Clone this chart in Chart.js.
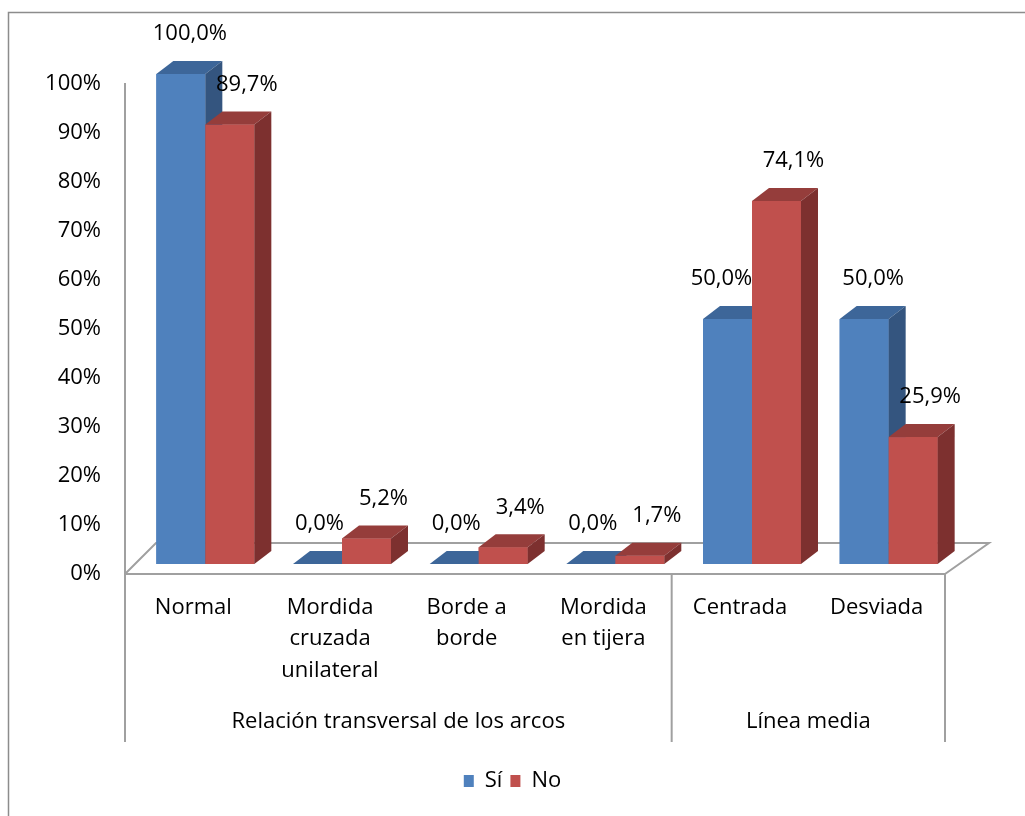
<!DOCTYPE html>
<html>
<head>
<meta charset="utf-8">
<script src="https://cdn.jsdelivr.net/npm/chart.js@4.4.0/dist/chart.umd.min.js"></script>
<style>
  html, body { margin: 0; padding: 0; background: #fff; }
  #wrap { width: 1025px; height: 816px; position: relative; }
</style>
</head>
<body>
<div id="wrap"><canvas id="chart"></canvas></div>
<script>
// Data
const categories = [['Normal'], ['Mordida', 'cruzada', 'unilateral'], ['Borde a', 'borde'], ['Mordida', 'en tijera'], ['Centrada'], ['Desviada']];
const groupNames = ['Relación transversal de los arcos', 'Línea media'];
const groupSizes = [4, 2];
const seriesNames = ['Sí', 'No'];
const siValues = [100, 0, 0, 0, 50, 50];
const noValues = [89.7, 5.2, 3.4, 1.7, 74.1, 25.9];

// Colors
const blueFront = '#4f81bd', blueTop = '#3d6699', blueSide = '#34557f';
const redFront = '#c0504d', redTop = '#953d3b', redSide = '#7d302f';
const lineColor = '#a0a0a0';
const fontFamily = '"Open Sans", Lato, sans-serif';
const fontSize = 22;

// 3D look: bars sit back in the floor, each bar has its own depth
const barShift = { x: 12, y: -10 };
const barDepth = { x: 17, y: -13 };
const faceColors = [[blueTop, blueSide], [redTop, redSide]];

const fmt = v => v.toFixed(1).replace('.', ',') + '%';

const floorPlugin = {
  id: 'floor3d',
  beforeDraw(chart) {
    const ctx = chart.ctx;
    ctx.save();
    ctx.strokeStyle = '#8c8c8c';
    ctx.lineWidth = 1.5;
    ctx.strokeRect(8.5, 12.5, 1040, 840);
    ctx.restore();
  },
  beforeDatasetsDraw(chart) {
    const ctx = chart.ctx, a = chart.chartArea;
    ctx.save();
    ctx.strokeStyle = lineColor;
    ctx.lineWidth = 2;
    ctx.beginPath();
    ctx.moveTo(a.left, a.bottom);
    ctx.lineTo(a.left + 31, a.bottom - 31);
    ctx.lineTo(a.right + 44, a.bottom - 31);
    ctx.lineTo(a.right, a.bottom);
    ctx.stroke();
    ctx.restore();
    ctx.save();
    ctx.translate(barShift.x, barShift.y);
  },
  afterDatasetsDraw(chart) {
    const ctx = chart.ctx;
    const metas = [chart.getDatasetMeta(0), chart.getDatasetMeta(1)];
    const n = chart.data.labels.length;
    for (let i = 0; i < n; i++) {
      metas.forEach((meta, d) => {
        const bar = meta.data[i];
        const l = bar.x - bar.width / 2, r = bar.x + bar.width / 2;
        const top = bar.y, base = bar.base;
        // front face again so the order per category is right
        ctx.fillStyle = chart.data.datasets[d].backgroundColor;
        ctx.fillRect(l, top, r - l, base - top);
        // top face
        ctx.fillStyle = faceColors[d][0];
        ctx.beginPath();
        ctx.moveTo(l, top);
        ctx.lineTo(l + barDepth.x, top + barDepth.y);
        ctx.lineTo(r + barDepth.x, top + barDepth.y);
        ctx.lineTo(r, top);
        ctx.closePath();
        ctx.fill();
        // side face
        if (base - top > 0.5) {
          ctx.fillStyle = faceColors[d][1];
          ctx.beginPath();
          ctx.moveTo(r, top);
          ctx.lineTo(r + barDepth.x, top + barDepth.y);
          ctx.lineTo(r + barDepth.x, base + barDepth.y);
          ctx.lineTo(r, base);
          ctx.closePath();
          ctx.fill();
        }
      });
    }
    // value labels
    ctx.fillStyle = '#000';
    ctx.font = fontSize + 'px ' + fontFamily;
    ctx.textAlign = 'center';
    ctx.textBaseline = 'middle';
    for (let i = 0; i < n; i++) {
      metas.forEach((meta, d) => {
        const bar = meta.data[i];
        const v = chart.data.datasets[d].data[i];
        let dx = d === 0 ? 9 : 17;
        // blue label moves left when the red bar beside it is taller
        if (d === 0 && noValues[i] > v) dx = v > 0 ? -6 : 2;
        ctx.fillText(fmt(v), bar.x + dx, bar.y - 40);
      });
    }
    ctx.restore();
  },
  afterDraw(chart) {
    const ctx = chart.ctx, a = chart.chartArea, x = chart.scales.x;
    const divBottom = 742;
    ctx.save();
    ctx.strokeStyle = lineColor;
    ctx.lineWidth = 2;
    ctx.fillStyle = '#000';
    ctx.font = fontSize + 'px ' + fontFamily;
    ctx.textAlign = 'center';
    ctx.textBaseline = 'middle';
    let start = 0;
    const edges = [x.getPixelForValue(-0.5)];
    groupSizes.forEach((size, g) => {
      const left = x.getPixelForValue(start - 0.5);
      const right = x.getPixelForValue(start + size - 0.5);
      edges.push(right);
      ctx.fillText(groupNames[g], (left + right) / 2, 722);
      start += size;
    });
    edges.forEach(px => {
      ctx.beginPath();
      ctx.moveTo(px, a.bottom);
      ctx.lineTo(px, divBottom);
      ctx.stroke();
    });
    ctx.restore();
  }
};

new Chart(document.getElementById('chart'), {
  type: 'bar',
  data: {
    labels: categories,
    datasets: [
      { label: seriesNames[0], data: siValues, backgroundColor: blueFront, borderWidth: 0, clip: false },
      { label: seriesNames[1], data: noValues, backgroundColor: redFront, borderWidth: 0, clip: false }
    ]
  },
  options: {
    responsive: true,
    maintainAspectRatio: false,
    animation: false,
    categoryPercentage: 0.717,
    barPercentage: 1,
    layout: { padding: { top: 84, right: 0, left: 0, bottom: 14 } },
    plugins: {
      legend: {
        position: 'bottom',
        labels: {
          boxWidth: 10,
          boxHeight: 12,
          padding: 8,
          color: '#000',
          font: { family: fontFamily, size: fontSize }
        }
      },
      tooltip: { enabled: false }
    },
    scales: {
      x: {
        grid: { display: false, drawTicks: false },
        border: { display: true, color: lineColor, width: 2 },
        ticks: {
          color: '#000',
          padding: 18,
          maxRotation: 0,
          autoSkip: false,
          font: { family: fontFamily, size: fontSize, lineHeight: 1.43 }
        },
        afterFit(scale) { scale.height = 188; }
      },
      y: {
        min: 0,
        max: 100,
        grid: { display: false, drawTicks: false },
        border: { display: true, color: lineColor, width: 2 },
        ticks: {
          stepSize: 10,
          color: '#000',
          padding: 24,
          font: { family: fontFamily, size: fontSize },
          callback: v => v + '%'
        },
        afterFit(scale) { scale.width = 125; }
      },
      // empty right margin, keeps the legend centred on the whole page
      yRight: {
        position: 'right',
        min: 0,
        max: 100,
        grid: { display: false, drawTicks: false },
        border: { display: false },
        ticks: { display: false },
        afterFit(scale) { scale.width = 80; }
      }
    }
  },
  plugins: [floorPlugin]
});
</script>
</body>
</html>
